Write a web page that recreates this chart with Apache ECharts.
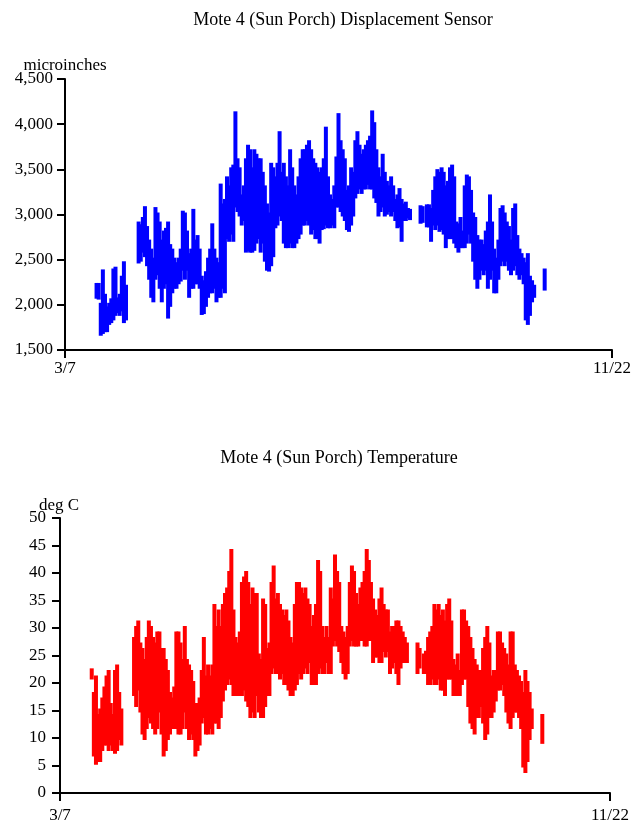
<!DOCTYPE html>
<html>
<head>
<meta charset="utf-8">
<script src="https://cdn.jsdelivr.net/npm/echarts@6/dist/echarts.min.js"></script>
<style>
html,body{margin:0;padding:0;background:#fff;}
#chart{width:635px;height:827px;}
</style>
</head>
<body>
<div id="chart"></div>
<script>
// Day offsets from 3/7 (0) to 11/22 (260)
const xTickValues = [0, 260];
const xTickLabels = ['3/7', '11/22'];
const dispTicks = [1500, 2000, 2500, 3000, 3500, 4000, 4500];
const tempTicks = [0, 5, 10, 15, 20, 25, 30, 35, 40, 45, 50];
const dispUnit = 'microinches';
const tempUnit = 'deg C';

const days = [15,16,17,18,19,20,21,22,23,24,25,26,27,28,29,
35,36,37,38,39,40,41,42,43,44,45,46,47,48,49,50,51,52,53,54,55,56,57,58,59,60,
61,62,63,64,65,66,67,68,69,70,71,72,73,74,75,76,77,78,79,80,81,82,83,84,85,86,87,88,89,90,
91,92,93,94,95,96,97,98,99,100,101,102,103,104,105,106,107,108,109,110,111,112,113,114,115,116,117,118,119,120,
121,122,123,124,125,126,127,128,129,130,131,132,133,134,135,136,137,138,139,140,141,142,143,144,145,146,147,148,149,150,
151,152,153,154,155,156,157,158,159,160,161,162,163,164,
169,170,172,173,174,175,176,177,178,179,180,
181,182,183,184,185,186,187,188,189,190,191,192,193,194,195,196,197,198,199,200,
201,202,203,204,205,206,207,208,209,210,211,212,213,214,215,216,217,218,219,220,221,222,223,228];

const dispLow = [2090,2080,1680,1700,1720,1720,1800,1820,1850,1900,1930,1900,1950,1820,1850,
2480,2500,2600,2550,2450,2300,2100,2050,2300,2350,2200,2050,2200,2250,1870,2000,2150,2200,2200,2250,2280,2400,2300,2400,2100,2200,
2200,2250,2250,2200,1910,1920,2000,2100,2150,2150,2200,2050,2100,2100,2200,2150,2750,2720,2800,2720,3100,3050,3000,2900,2950,2600,2620,2600,2600,2620,
2700,2750,2600,2700,2500,2400,2390,2450,2550,2870,2900,3000,2950,2700,2650,2650,2700,2650,2650,2700,2750,2800,2900,2900,2950,2900,2800,2850,2750,2750,
2700,2850,2860,2900,2870,2870,2900,2870,3100,3100,3050,3000,2950,2850,2830,2900,3000,3200,3250,3300,3250,3300,3300,3350,3300,3300,3200,3150,3000,3050,
3100,3000,3020,3050,3000,3050,2950,2870,2880,2720,2950,2950,2980,2960,
2920,2930,2880,2880,2720,2900,2850,2900,2830,2850,2800,
2650,2750,2750,2750,2700,2650,2600,2650,2650,2650,2700,2800,2700,2500,2300,2200,2300,2400,2350,2400,
2200,2300,2400,2150,2150,2300,2450,2500,2450,2500,2400,2350,2400,2450,2350,2300,2350,2250,1850,1800,1900,2050,2100,2180];

const dispHigh = [2220,2220,2000,2370,2100,1960,2000,2050,2380,2400,2060,2100,2300,2460,2200,
2900,2870,2950,3070,2850,2700,2600,2500,3060,3000,2900,2700,2800,2830,2900,2650,2600,2500,2450,2500,2600,3020,3000,2800,2550,2600,
3040,2700,2750,2600,2300,2250,2350,2500,2600,2880,2600,2500,2450,3320,3100,3150,3400,3300,3500,3530,4120,3600,3500,3200,3300,3600,3750,3700,3500,3700,
3650,3600,3600,3450,3300,3100,3000,3550,3500,3400,3550,3900,3450,3550,3400,3300,3700,3500,3300,3200,3400,3600,3700,3700,3750,3800,3700,3600,3550,3500,
3450,3500,3600,3950,3400,3200,3150,3300,3620,4100,3800,3700,3600,3250,3300,3500,3450,3800,3900,3750,3650,3700,3750,3800,3850,4130,4000,3700,3500,3400,
3650,3450,3350,3300,3400,3300,3150,3200,3270,3150,3100,3120,3050,3040,
3080,3070,3090,3090,3050,3250,3400,3480,3450,3500,3450,
3300,3350,3500,3530,3400,2900,2880,2950,2800,3300,3420,3400,3250,3000,2950,2750,2700,2700,2650,2800,
2900,3200,2900,2600,2500,2700,3050,3080,3000,2900,2850,2700,3050,3100,2750,2600,2550,2500,2450,2550,2300,2250,2200,2380];

const tempLow = [21,7,5.5,6,6,8,9,9,8,9,8,7.5,8,10,9,
18,16,19,15,11,10,12,14,13,12,11,12,15,11,7,8,10,11,12,12,12,11,11,12,15,12,
10,11,10,7,8,9,13,14,11,11,12,11,13,13,12,14,17,19,20,21,20,18,18,18,18,18,19,17,16,14,
15,14,18,15,14,14,16,18,18,22,23,22,22,21,22,20,20,19,18,18,19,20,22,21,22,23,22,24,20,20,
20,22,23,22,22,24,22,22,27,28,27,26,24,22,21,22,27,28,27,27,27,28,28,27,27,28,28,24,25,25,
24,24,26,25,26,22,23,24,22,20,23,24,24,24,
22,23,22,22,20,20,21,20,20,21,19,
19,18,21,21,21,18,18,18,18,20,21,21,16,13,12,11,14,14,16,13,
10,11,14,14,15,17,19,19,20,18,15,13,12,14,15,15,14,12,5,4,6,10,12,9.3];

const tempHigh = [22.3,18,21,14,15,17,19,21,22,16,14,22,23,18,15,
28,30,31,27,26,24,28,31,30,28,27,29,29,26,26,24,22,18,17,19,29,29,27,24,30,24,
23,22,20,16,16,17,22,28,21,23,21,23,34,30,33,30,34,36,37,40,44,33,28,27,29,38,39,40,38,34,
37,36,36,25,24,35,34,26,27,38,41,35,36,34,33,32,33,31,28,27,34,38,38,37,36,37,35,34,30,32,
34,42,40,30,28,30,28,37,35,43,40,38,30,29,28,30,38,41,40,36,34,37,38,40,44,42,38,35,33,32,
35,37,34,33,33,29,30,30,31,31,30,29,28,27,
27,26,25,25.5,28,29,30,34,33,34,32,
33,31,34,35,31,24,23,25,22,33,33,31,30,28,26,24,23,22,22,26,
28,30,27,21,22,22,29,29,27,26,25,23,29,29,23,22,21,20,18,22,20,18,15,14];

function rows(lo, hi) {
  return days.map((d, i) => [d, lo[i], hi[i]]);
}

function strokeRenderer(color) {
  return function (params, api) {
    const top = api.coord([api.value(0), api.value(2)]);
    const bot = api.coord([api.value(0), api.value(1)]);
    return {
      type: 'rect',
      shape: { x: top[0] - 2, y: top[1] - 2, width: 4, height: bot[1] - top[1] + 4 },
      style: { fill: color }
    };
  };
}

const FONT = 'Liberation Serif';
const xLabel = v => { const i = xTickValues.indexOf(v); return i >= 0 ? xTickLabels[i] : ''; };
const commaFmt = v => v.toLocaleString('en-US');

function xAxisDef(gridIndex, margin) {
  return {
    gridIndex, type: 'value', min: xTickValues[0], max: xTickValues[1], interval: xTickValues[1] - xTickValues[0],
    axisLine: { lineStyle: { color: '#000', width: 2 } },
    axisTick: { show: true, length: 8, lineStyle: { color: '#000', width: 2 } },
    axisLabel: { formatter: xLabel, color: '#000', fontFamily: FONT, fontSize: 17, margin },
    splitLine: { show: false }
  };
}
function yAxisDef(gridIndex, ticks, fmt, margin) {
  return {
    gridIndex, type: 'value', min: ticks[0], max: ticks[ticks.length - 1], interval: ticks[1] - ticks[0],
    axisLine: { show: true, lineStyle: { color: '#000', width: 2 } },
    axisTick: { show: true, length: 8, lineStyle: { color: '#000', width: 2 } },
    axisLabel: { formatter: fmt, color: '#000', fontFamily: FONT, fontSize: 17, margin },
    splitLine: { show: false }
  };
}

const txt = (size) => ({ color: '#000', fontFamily: FONT, fontSize: size, fontWeight: 'normal' });

const chart = echarts.init(document.getElementById('chart'), null, { renderer: 'canvas' });
chart.setOption({
  animation: false,
  backgroundColor: '#fff',
  title: [
    { text: 'Mote 4 (Sun Porch) Displacement Sensor', left: 338, top: 6, textAlign: 'center', textStyle: txt(18) },
    { text: 'Mote 4 (Sun Porch) Temperature', left: 334, top: 444, textAlign: 'center', textStyle: txt(18) },
    { text: dispUnit, left: 65, top: 57, textAlign: 'center', padding: 0, textStyle: txt(17) },
    { text: tempUnit, left: 59, top: 497, textAlign: 'center', padding: 0, textStyle: txt(17) }
  ],
  grid: [
    { left: 65, top: 79, width: 547, height: 271 },
    { left: 60, top: 518, width: 550, height: 275 }
  ],
  xAxis: [xAxisDef(0, 10), xAxisDef(1, 14)],
  yAxis: [yAxisDef(0, dispTicks, commaFmt, 12), yAxisDef(1, tempTicks, v => String(v), 14)],
  series: [
    { type: 'custom', xAxisIndex: 0, yAxisIndex: 0, renderItem: strokeRenderer('#0000ff'),
      data: rows(dispLow, dispHigh), encode: { x: 0, y: [1, 2] } },
    { type: 'custom', xAxisIndex: 1, yAxisIndex: 1, renderItem: strokeRenderer('#ff0000'),
      data: rows(tempLow, tempHigh), encode: { x: 0, y: [1, 2] } }
  ]
});
</script>
</body>
</html>
